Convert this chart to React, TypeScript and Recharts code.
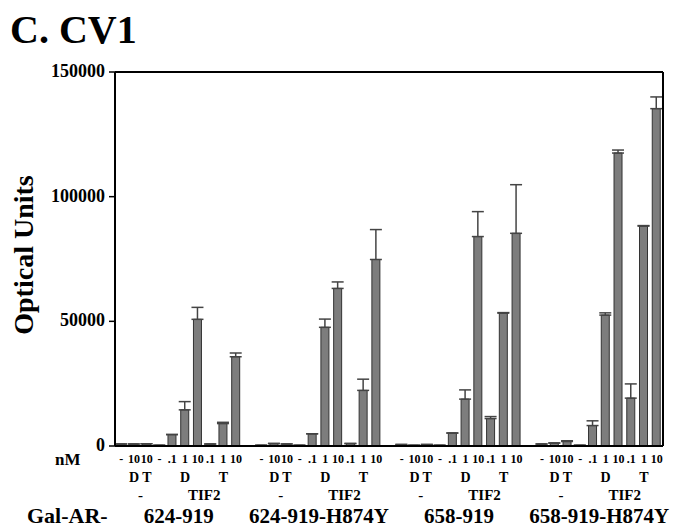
import React from "react";
import { BarChart, Bar, XAxis, YAxis, ErrorBar } from "recharts";

const groups = ["624-919", "624-919-H874Y", "658-919", "658-919-H874Y"];
const doseLabels = ["-", "10", "10", "-", ".1", "1", "10", ".1", "1", "10"];
const ligandLabels = ["", "D", "T", "", "", "D", "", "", "T", ""];
const cofactorLabels = ["-", "TIF2"];
const yTicks = [0, 50000, 100000, 150000];

const g1Values = [800, 800, 900, 300, 4600, 14500, 50800, 800, 9000, 35800];
const g1Errors = [0, 0, 0, 0, 0, 3300, 4800, 0, 500, 1500];
const g2Values = [300, 1000, 800, 300, 4900, 47600, 63200, 1000, 22300, 74800];
const g2Errors = [0, 0, 0, 0, 0, 3300, 2600, 0, 4500, 12000];
const g3Values = [600, 300, 600, 300, 5200, 18800, 84000, 11000, 53300, 85300];
const g3Errors = [0, 0, 0, 0, 0, 3700, 10000, 800, 200, 19500];
const g4Values = [800, 1200, 1800, 300, 8200, 52500, 117500, 19200, 88200, 135300];
const g4Errors = [0, 0, 300, 0, 1900, 900, 1200, 5700, 200, 4700];

const groupValues = [g1Values, g2Values, g3Values, g4Values];
const groupErrors = [g1Errors, g2Errors, g3Errors, g4Errors];

type Row = { id: number; group: number; slot: number; value: number | null; err: [number, number] | null };
const data: Row[] = [];
groupValues.forEach((vals, g) => {
  vals.forEach((v, i) => {
    data.push({ id: data.length, group: g, slot: i, value: v, err: [0, groupErrors[g][i]] });
  });
  if (g < groupValues.length - 1) {
    data.push({ id: data.length, group: g, slot: 10, value: null, err: null });
  }
});

const W = 676;
const H = 527;
const X_AXIS_H = 81;
const M = { top: 72, right: 13, left: 0, bottom: 0 };
const Y_AXIS_W = 115;
const PLOT_LEFT = M.left + Y_AXIS_W;
const PLOT_RIGHT = W - M.right;
const PLOT_TOP = M.top;
const PLOT_BOTTOM = H - M.bottom - X_AXIS_H;
const BAND = (PLOT_RIGHT - PLOT_LEFT) / data.length;
const FONT = "'Liberation Serif', 'Times New Roman', serif";

const XTick = (props: any) => {
  const { x, y, payload } = props;
  const row = data[payload.index ?? payload.value];
  if (!row || row.slot === 10) return null;
  const items: React.ReactNode[] = [];
  items.push(
    <text key="d" x={x} y={y + 17} textAnchor="middle" fontFamily={FONT} fontWeight="bold" fontSize={12} fill="#000">
      {doseLabels[row.slot]}
    </text>
  );
  if (ligandLabels[row.slot]) {
    items.push(
      <text key="l" x={x} y={y + 36} textAnchor="middle" fontFamily={FONT} fontWeight="bold" fontSize={14} fill="#000">
        {ligandLabels[row.slot]}
      </text>
    );
  }
  if (row.slot === 1) {
    items.push(
      <text key="c0" x={x + BAND / 2} y={y + 54} textAnchor="middle" fontFamily={FONT} fontWeight="bold" fontSize={15} fill="#000">
        {cofactorLabels[0]}
      </text>
    );
  }
  if (row.slot === 6) {
    items.push(
      <text key="c1" x={x + BAND / 2} y={y + 54} textAnchor="middle" fontFamily={FONT} fontWeight="bold" fontSize={15} fill="#000">
        {cofactorLabels[1]}
      </text>
    );
  }
  if (row.slot === 4) {
    items.push(
      <text key="g" x={x + BAND / 2} y={y + 77} textAnchor="middle" fontFamily={FONT} fontWeight="bold" fontSize={21} fill="#000">
        {groups[row.group]}
      </text>
    );
  }
  return <g>{items}</g>;
};

const YTick = (props: any) => {
  const { x, y, payload } = props;
  return (
    <text x={x - 2} y={y + 5} textAnchor="end" fontFamily={FONT} fontWeight="bold" fontSize={18} fill="#000">
      {payload.value}
    </text>
  );
};

export default function App() {
  return (
    <div style={{ position: "absolute", left: 0, top: 0, width: W, height: H, background: "#fff" }}>
      <BarChart width={W} height={H} data={data} margin={M} barCategoryGap={0}>
        <XAxis
          dataKey="id"
          type="category"
          interval={0}
          tick={<XTick />}
          tickLine={false}
          tickSize={0}
          tickMargin={0}
          height={X_AXIS_H}
          axisLine={{ stroke: "#000", strokeWidth: 2 }}
        />
        <YAxis
          domain={[0, 150000]}
          ticks={yTicks}
          interval={0}
          width={Y_AXIS_W}
          tick={<YTick />}
          tickSize={6}
          tickLine={{ stroke: "#000", strokeWidth: 1.5 }}
          axisLine={{ stroke: "#000", strokeWidth: 2 }}
          allowDataOverflow
        />
        <Bar dataKey="value" fill="#7d7d7d" stroke="#333" strokeWidth={1} barSize={8} isAnimationActive={false}>
          <ErrorBar dataKey="err" direction="y" width={6} stroke="#444" strokeWidth={1.5} />
        </Bar>
      </BarChart>
      <svg width={W} height={H} style={{ position: "absolute", left: 0, top: 0, pointerEvents: "none" }}>
        <line x1={PLOT_LEFT} y1={PLOT_TOP} x2={PLOT_RIGHT} y2={PLOT_TOP} stroke="#000" strokeWidth={2} />
        <line x1={PLOT_RIGHT} y1={PLOT_TOP} x2={PLOT_RIGHT} y2={PLOT_BOTTOM} stroke="#000" strokeWidth={2} />
        <text x={10} y={43} fontFamily={FONT} fontWeight="bold" fontSize={40} fill="#000">C. CV1</text>
        <text
          x={0}
          y={0}
          transform="translate(33, 255) rotate(-90)"
          textAnchor="middle"
          fontFamily={FONT}
          fontWeight="bold"
          fontSize={28}
          fill="#000"
        >
          Optical Units
        </text>
        <text x={55} y={465} fontFamily={FONT} fontWeight="bold" fontSize={17} fill="#000">nM</text>
        <text x={27} y={523} fontFamily={FONT} fontWeight="bold" fontSize={22} fill="#000">Gal-AR-</text>
      </svg>
    </div>
  );
}
